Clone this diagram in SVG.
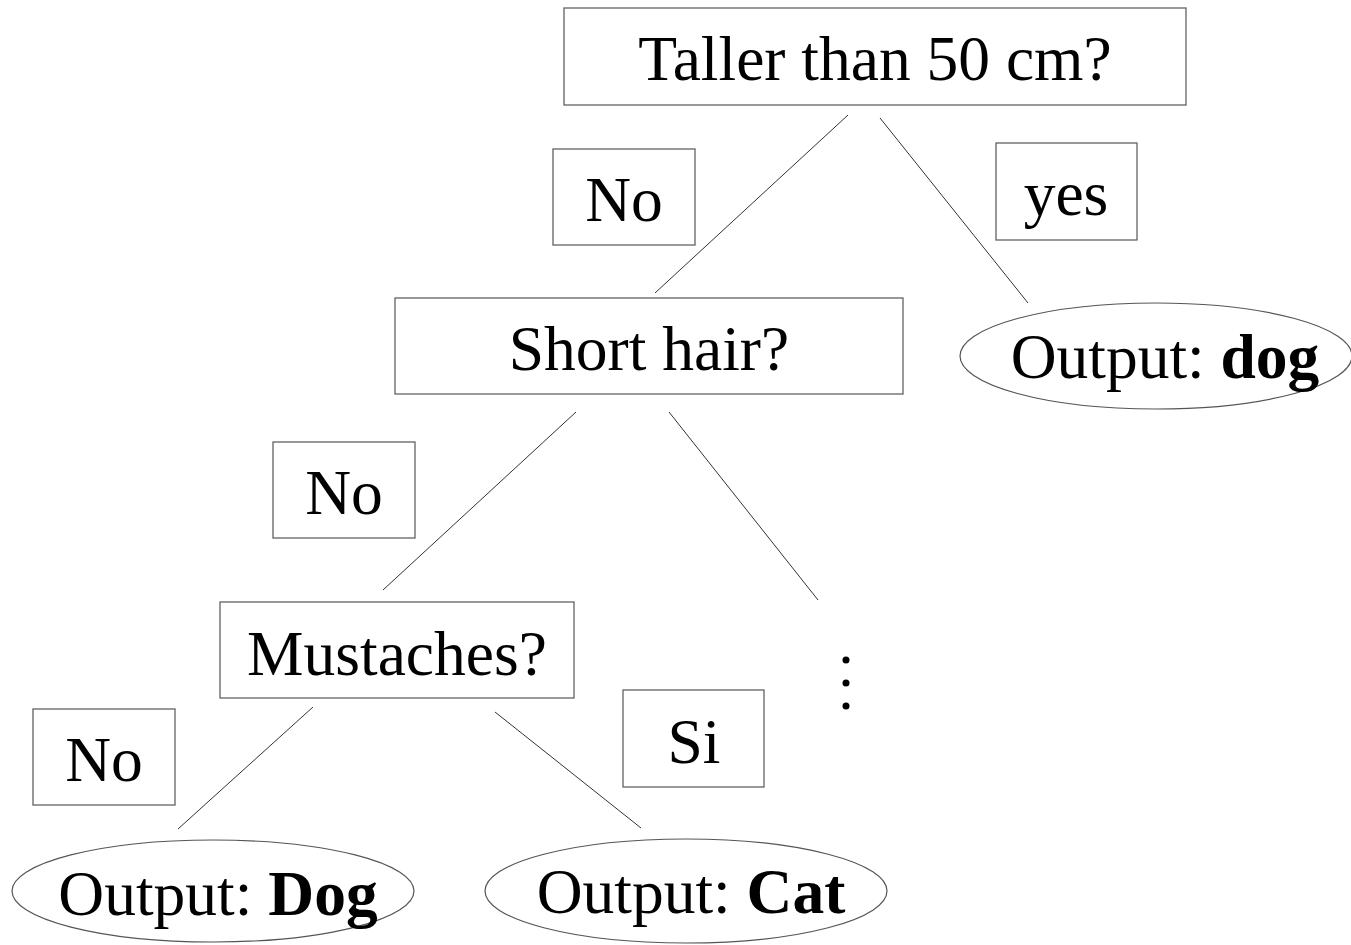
<svg xmlns="http://www.w3.org/2000/svg" width="1351" height="945" viewBox="0 0 1351 945">
<style>
text{font-family:"Liberation Serif","Times New Roman",serif;font-size:63.5px;fill:#000;text-anchor:middle}
.b{font-weight:bold}
.n{fill:#fff;stroke:#555;stroke-width:1.2}
line{stroke:#333;stroke-width:1}
</style>
<rect width="1351" height="945" fill="#fff"/>
<g id="connectors">
<line x1="848" y1="115" x2="655" y2="293"/>
<line x1="880" y1="118" x2="1028" y2="303"/>
<line x1="576" y1="412" x2="383" y2="590"/>
<line x1="669" y1="412" x2="818" y2="600"/>
<line x1="313" y1="707" x2="178" y2="829"/>
<line x1="495" y1="712" x2="641" y2="828"/>
</g>
<g id="n-taller"><rect class="n" x="564" y="8" width="622" height="97"/><text x="875" y="80">Taller than 50 cm?</text></g>
<g id="l-no1"><rect class="n" x="553" y="149" width="142" height="96"/><text x="624" y="221">No</text></g>
<g id="l-yes"><rect class="n" x="996" y="143" width="141" height="97"/><text x="1066" y="215">yes</text></g>
<g id="n-short"><rect class="n" x="395" y="298" width="508" height="96"/><text x="649" y="370">Short hair?</text></g>
<g id="n-outdog"><ellipse class="n" cx="1156" cy="356" rx="196" ry="53"/><text x="1165" y="378">Output: <tspan class="b">dog</tspan></text></g>
<g id="l-no2"><rect class="n" x="273" y="442" width="142" height="96"/><text x="344" y="514">No</text></g>
<g id="n-must"><rect class="n" x="220" y="602" width="354" height="96"/><text x="397" y="675">Mustaches?</text></g>
<g id="n-dots"><circle cx="846" cy="660" r="3.5"/><circle cx="846" cy="683" r="3.5"/><circle cx="846" cy="706" r="3.5"/></g>
<g id="l-no3"><rect class="n" x="33" y="709" width="142" height="96"/><text x="104" y="781">No</text></g>
<g id="l-si"><rect class="n" x="623" y="690" width="141" height="97"/><text x="694" y="763">Si</text></g>
<g id="n-outDog"><ellipse class="n" cx="213" cy="891" rx="201" ry="51"/><text x="218" y="915">Output: <tspan class="b">Dog</tspan></text></g>
<g id="n-outCat"><ellipse class="n" cx="686" cy="891" rx="201" ry="52"/><text x="691" y="913">Output: <tspan class="b">Cat</tspan></text></g>
</svg>
